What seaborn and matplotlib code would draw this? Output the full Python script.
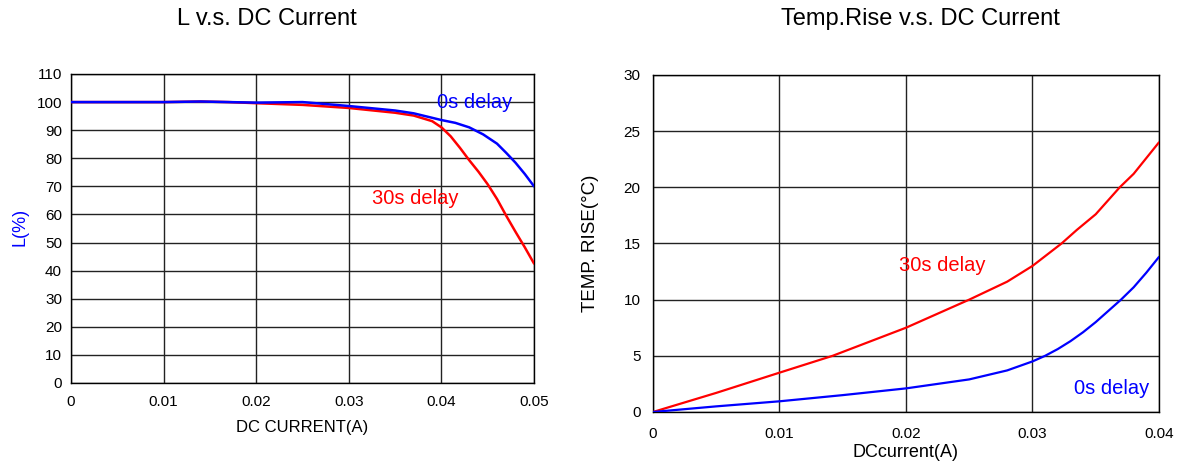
import numpy as np
import pandas as pd
import matplotlib
matplotlib.use("Agg")
import matplotlib.pyplot as plt
import seaborn as sns

# ---- data ----
l_current = [0, 0.005, 0.01, 0.014, 0.017, 0.02, 0.025, 0.03, 0.035, 0.037, 0.04, 0.0415, 0.043,
             0.0445, 0.046, 0.047, 0.048, 0.049, 0.05]
l_0s = [100, 100, 100, 100.2, 100, 99.8, 100, 98.6, 97.0, 96.0, 93.6, 92.6, 91.0,
        88.5, 85.2, 81.9, 78.4, 74.4, 70]
l_30s_current = [0, 0.005, 0.01, 0.014, 0.017, 0.02, 0.025, 0.03, 0.035, 0.037, 0.039, 0.04, 0.041,
                 0.042, 0.043, 0.044, 0.045, 0.046, 0.047, 0.048, 0.049, 0.05]
l_30s = [100, 100, 100, 100.2, 100, 99.6, 99.0, 97.9, 96.2, 95.2, 93.2, 91.0, 87.8,
         83.7, 79.3, 75.2, 70.7, 65.5, 59.5, 53.8, 48.3, 42.5]

t_current = [0, 0.005, 0.01, 0.015, 0.02, 0.025, 0.028, 0.029, 0.03, 0.031, 0.032, 0.033, 0.034,
             0.035, 0.036, 0.037, 0.038, 0.039, 0.04]
t_0s = [0, 0.5, 0.95, 1.5, 2.1, 2.9, 3.7, 4.1, 4.5, 5.0, 5.6, 6.3, 7.1,
        8.0, 9.0, 10.0, 11.1, 12.4, 13.8]
t_30s_current = [0, 0.005, 0.01, 0.0142, 0.02, 0.025, 0.028, 0.03, 0.0323, 0.0335, 0.035, 0.0369,
                 0.038, 0.039, 0.04]
t_30s = [0, 1.7, 3.5, 5.0, 7.5, 10.0, 11.6, 13.0, 15.0, 16.2, 17.6, 20.0,
         21.2, 22.6, 24.0]

l_xticks = [0, 0.01, 0.02, 0.03, 0.04, 0.05]
l_xticklabels = ["0", "0.01", "0.02", "0.03", "0.04", "0.05"]
l_yticks = list(range(0, 111, 10))
t_xticks = [0, 0.01, 0.02, 0.03, 0.04]
t_xticklabels = ["0", "0.01", "0.02", "0.03", "0.04"]
t_yticks = list(range(0, 31, 5))

sns.set_style("white")
plt.rcParams['font.family'] = ['Liberation Sans', 'DejaVu Sans']
plt.rcParams['text.color'] = 'black'
plt.rcParams['axes.labelcolor'] = 'black'
plt.rcParams['xtick.color'] = 'black'
plt.rcParams['ytick.color'] = 'black'

fig = plt.figure(figsize=(11.86, 4.63), dpi=100)
ax1 = fig.add_axes([0.0599, 0.1728, 0.3904, 0.6674])
ax2 = fig.add_axes([0.5506, 0.1102, 0.4266, 0.7279])

df_l0 = pd.DataFrame({"x": l_current, "y": l_0s})
df_l30 = pd.DataFrame({"x": l_30s_current, "y": l_30s})
df_t0 = pd.DataFrame({"x": t_current, "y": t_0s})
df_t30 = pd.DataFrame({"x": t_30s_current, "y": t_30s})

sns.lineplot(data=df_l30, x="x", y="y", ax=ax1, color="#ff0000", linewidth=1.8, zorder=3)
sns.lineplot(data=df_l0, x="x", y="y", ax=ax1, color="#0000ff", linewidth=1.8, zorder=4)
sns.lineplot(data=df_t30, x="x", y="y", ax=ax2, color="#ff0000", linewidth=1.6, zorder=3)
sns.lineplot(data=df_t0, x="x", y="y", ax=ax2, color="#0000ff", linewidth=1.6, zorder=4)

for ax, xt, xtl, yt, xlim, ylim, xpad, ypad in [
    (ax1, l_xticks, l_xticklabels, l_yticks, (0, 0.05), (0, 110), 9, 6.5),
    (ax2, t_xticks, t_xticklabels, t_yticks, (0, 0.04), (0, 30), 10.5, 9),
]:
    ax.set_xlim(*xlim)
    ax.set_ylim(*ylim)
    ax.set_xticks(xt)
    ax.set_xticklabels(xtl)
    ax.set_yticks(yt)
    ax.grid(True, color="#222222", linewidth=1.0)
    ax.tick_params(axis="x", length=0, labelsize=11, pad=xpad)
    ax.tick_params(axis="y", length=0, labelsize=11, pad=ypad)
    for s in ax.spines.values():
        s.set_color("#000000")
        s.set_linewidth(1.0)

ax1.set_xlabel("DC CURRENT(A)", fontsize=12)
ax1.set_ylabel("L(%)", fontsize=13, color="#0000ff")
ax2.set_xlabel("DCcurrent(A)", fontsize=13)
ax2.set_ylabel("TEMP. RISE(°C)", fontsize=13.5)
ax1.xaxis.set_label_coords(0.5, -0.121)
ax1.yaxis.set_label_coords(-0.091, 0.505)
ax2.xaxis.set_label_coords(0.5, -0.096)
ax2.yaxis.set_label_coords(-0.106, 0.5)

ax1.text(0.0436, 100.0, "0s delay", color="#0000ff", fontsize=14.5, ha="center", va="center")
ax1.text(0.03715, 65.8, "30s delay", color="#ff0000", fontsize=14.5, ha="center", va="center")
ax2.text(0.02285, 13.08, "30s delay", color="#ff0000", fontsize=14.5, ha="center", va="center")
ax2.text(0.03628, 2.05, "0s delay", color="#0000ff", fontsize=14.5, ha="center", va="center")

fig.text(0.2251, 0.958, "L v.s. DC Current", fontsize=17, ha="center", va="center")
fig.text(0.776, 0.958, "Temp.Rise v.s. DC Current", fontsize=17, ha="center", va="center")

fig.savefig("out.png", dpi=100)
